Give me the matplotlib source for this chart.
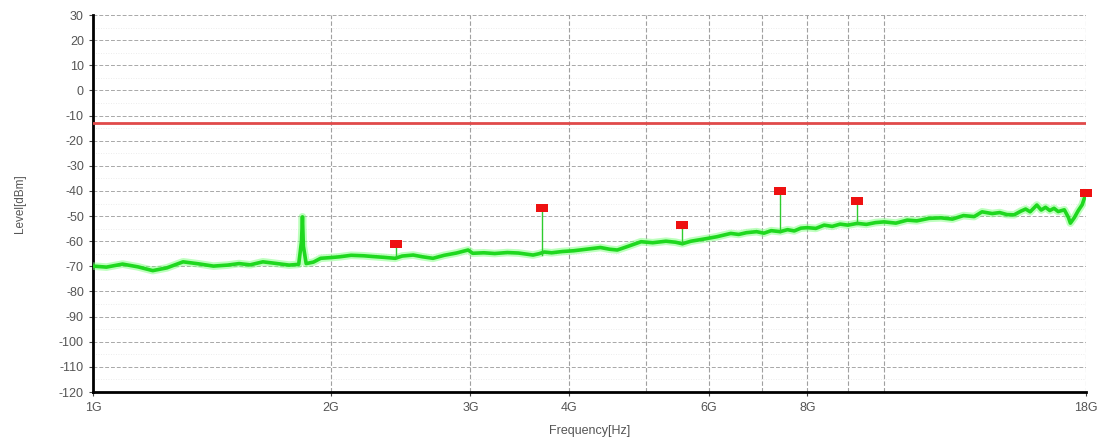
import numpy as np
import matplotlib
matplotlib.use("Agg")
import matplotlib.pyplot as plt
from matplotlib.ticker import FixedLocator, NullFormatter

plt.rcParams["axes.unicode_minus"] = False
plt.rcParams["font.family"] = ["Liberation Sans", "DejaVu Sans"]

# measured trace (GHz, dBm)
freq_ghz = [1.00, 1.04, 1.09, 1.14, 1.19, 1.24, 1.30, 1.36, 1.42, 1.48, 1.53, 1.58,
            1.64, 1.70, 1.77, 1.82, 1.835, 1.84, 1.845, 1.86, 1.90, 1.94, 2.00, 2.05,
            2.12, 2.20, 2.26, 2.33, 2.41, 2.46, 2.54, 2.61, 2.69, 2.78, 2.88, 2.98,
            3.02, 3.12, 3.22, 3.34, 3.45, 3.60, 3.66, 3.72, 3.80, 3.92, 4.05, 4.20,
            4.38, 4.50, 4.60, 4.75, 4.93, 5.10, 5.30, 5.45, 5.56, 5.70, 5.85, 5.98,
            6.15, 6.40, 6.55, 6.70, 6.90, 7.05, 7.20, 7.39, 7.55, 7.70, 7.85, 8.00,
            8.20, 8.40, 8.60, 8.80, 9.00, 9.25, 9.50, 9.75, 10.0, 10.35, 10.7, 11.0,
            11.4, 11.8, 12.2, 12.6, 13.0, 13.3, 13.7, 14.0, 14.3, 14.6, 14.9, 15.1,
            15.3, 15.6, 15.8, 16.0, 16.2, 16.4, 16.6, 16.9, 17.1, 17.2, 17.4, 17.6,
            17.8, 18.0]
level_dbm = [-69.9, -70.3, -69.1, -70.2, -71.7, -70.6, -68.2, -69.0, -69.9, -69.5, -68.9, -69.4,
             -68.2, -68.8, -69.5, -69.2, -60.0, -50.3, -62.0, -68.9, -68.3, -66.8, -66.5, -66.2,
             -65.6, -65.8, -66.1, -66.4, -66.8, -65.9, -65.5, -66.2, -66.8, -65.6, -64.7, -63.5,
             -64.8, -64.6, -64.9, -64.5, -64.7, -65.5, -65.0, -64.3, -64.6, -64.1, -63.8, -63.2,
             -62.5, -63.2, -63.5, -62.0, -60.2, -60.6, -60.0, -60.4, -61.0, -60.0, -59.4, -58.9,
             -58.2, -56.9, -57.3, -56.6, -56.2, -56.8, -55.8, -56.2, -55.4, -55.9, -54.8, -54.6,
             -54.9, -53.6, -54.1, -53.2, -53.6, -52.9, -53.3, -52.6, -52.3, -52.8, -51.6, -51.9,
             -50.9, -50.7, -51.2, -49.8, -50.2, -48.3, -49.0, -48.6, -49.4, -49.5, -48.0, -47.2,
             -48.3, -45.6, -47.6, -46.5, -47.8, -46.9, -48.2, -47.5, -50.5, -52.8, -50.6, -47.8,
             -45.5, -41.0]

# peak markers (GHz, dBm) and trace level under each
peak_ghz = [2.416, 3.696, 5.557, 7.39, 9.25, 18.0]
peak_dbm = [-61.1, -46.8, -53.6, -40.0, -44.0, -40.8]
peak_base = [-66.8, -65.3, -61.0, -56.2, -53.1, -41.0]

limit_dbm = -13

xtick_ghz = [1, 2, 3, 4, 6, 8, 18]
xtick_labels = ["1G", "2G", "3G", "4G", "6G", "8G", "18G"]
xgrid_ghz = [1, 2, 3, 4, 5, 6, 7, 8, 9, 10, 18]
yticks = list(range(-120, 31, 10))

fig = plt.figure(figsize=(11.04, 4.47), dpi=100)
ax = fig.add_axes([0.0842, 0.123, 0.8995, 0.8434])

ax.set_xscale("log")
ax.set_xlim(1, 18)
ax.set_ylim(-120, 30)

# grid
for y in yticks:
    ax.axhline(y, color="#a8a8a8", lw=0.7, ls=(0, (4, 2)), zorder=1)
for y in range(-115, 30, 10):
    ax.axhline(y, color="#e6e6e6", lw=0.6, ls=(0, (1, 2)), zorder=1)
for x in xgrid_ghz:
    ax.axvline(x, color="#a0a0a0", lw=0.8, ls=(0, (4, 2)), zorder=1)

ax.axhline(limit_dbm, color="#e04a4a", lw=2.0, zorder=3)

f = np.array(freq_ghz)
ax.plot(f, level_dbm, color="#7dff7d", lw=5.5, alpha=0.5, zorder=4)
ax.plot(f, level_dbm, color="#1fd81f", lw=2.6, zorder=5)

for px, pb, pt in zip(peak_ghz, peak_base, peak_dbm):
    ax.plot([px, px], [pb, pt], color="#2ecc2e", lw=1.0, zorder=5)
rect = [(-1.4, -1), (1.4, -1), (1.4, 1), (-1.4, 1), (-1.4, -1)]
ax.scatter(peak_ghz, peak_dbm, marker=rect, s=80, color="#ee1111",
           linewidths=0, zorder=6, clip_on=False)

ax.xaxis.set_major_locator(FixedLocator(xtick_ghz))
ax.set_xticklabels(xtick_labels)
ax.xaxis.set_minor_formatter(NullFormatter())
ax.xaxis.set_minor_locator(FixedLocator([]))
ax.set_yticks(yticks)

ax.tick_params(axis="both", labelsize=9, colors="#444444", length=3)
ax.tick_params(axis="x", pad=4)
for lab in ax.get_xticklabels() + ax.get_yticklabels():
    lab.set_color("#555555")

for s in ["top", "right"]:
    ax.spines[s].set_visible(False)
ax.spines["left"].set_linewidth(2)
ax.spines["bottom"].set_linewidth(2)

ax.set_xlabel("Frequency[Hz]", fontsize=9, color="#555555", labelpad=8)
ax.set_ylabel("Level[dBm]", fontsize=8.5, color="#555555", labelpad=24)

fig.savefig("out.png", dpi=100)
